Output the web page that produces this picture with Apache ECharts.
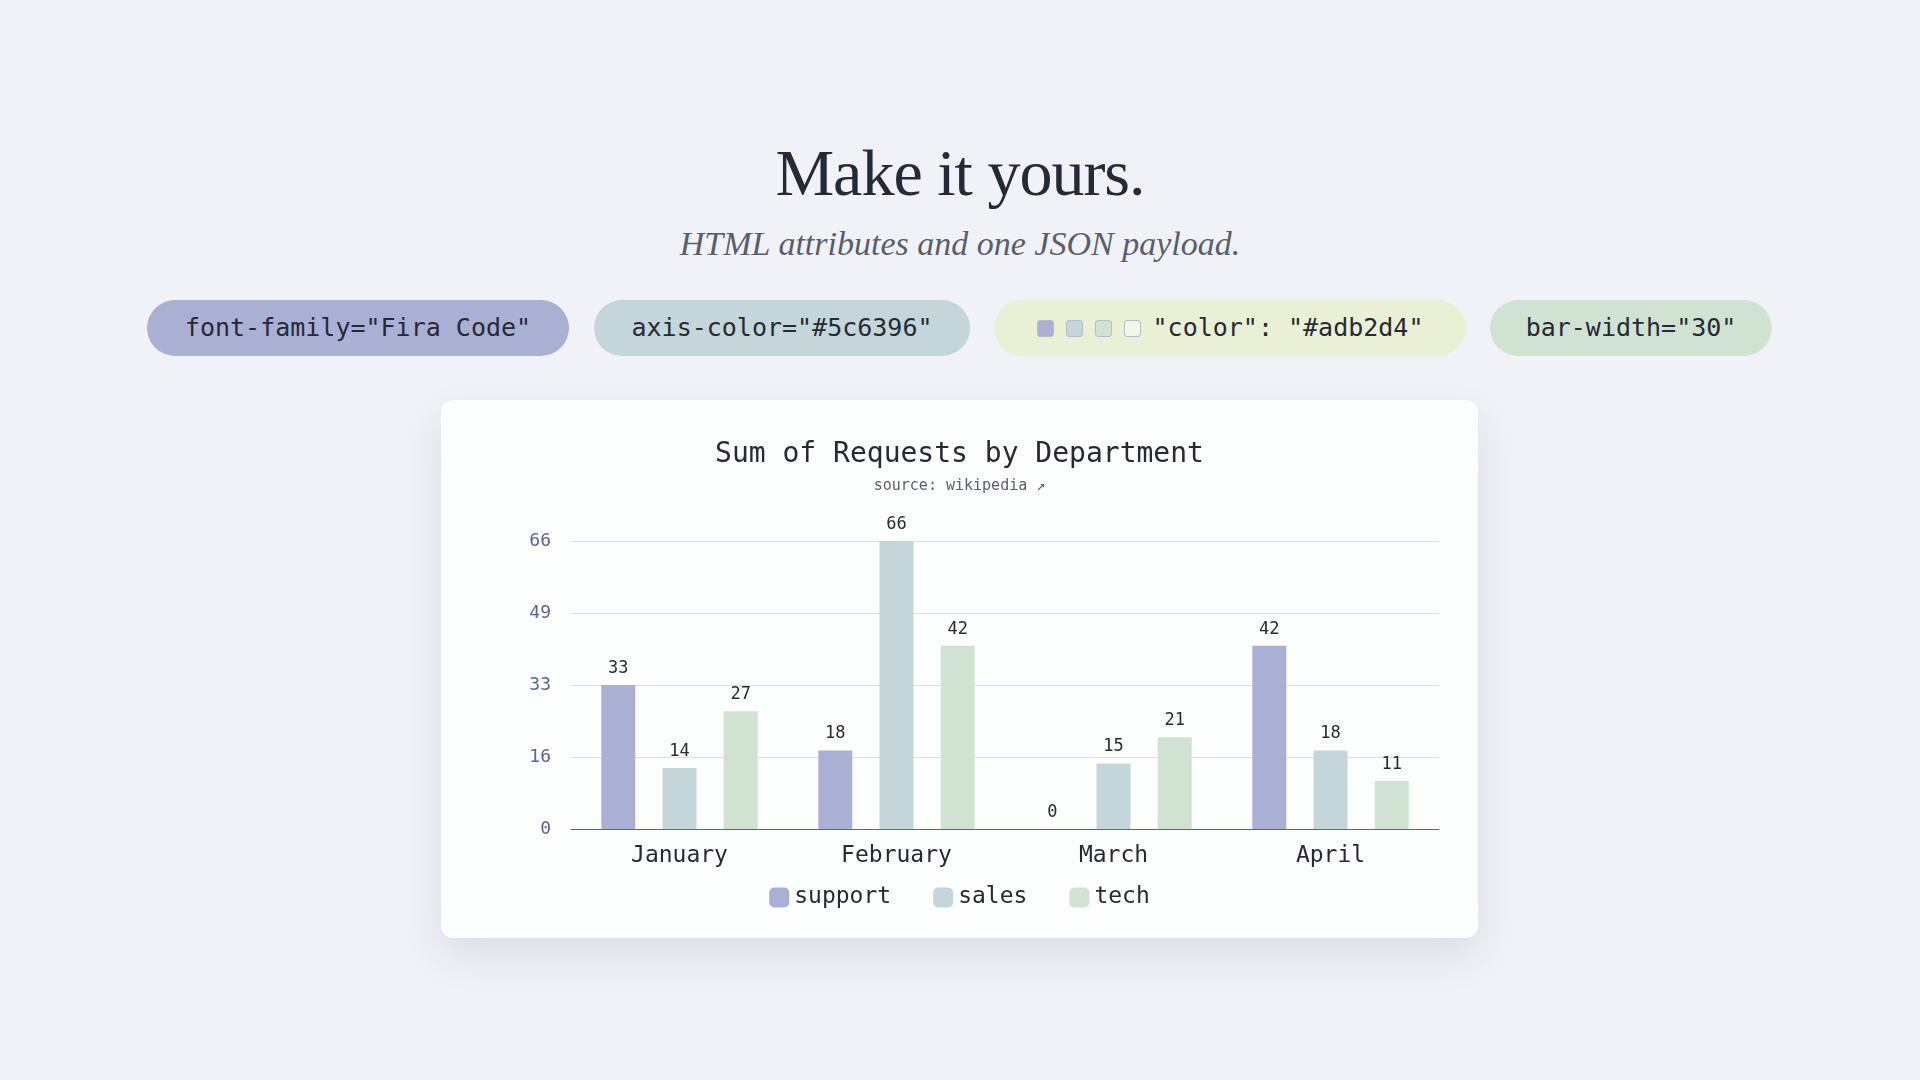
<!DOCTYPE html>
<html>
<head>
<meta charset="utf-8">
<script src="https://cdn.jsdelivr.net/npm/echarts@6/dist/echarts.min.js"></script>
<style>
  body { margin: 0; width: 1920px; height: 1080px; background: #f0f2f7; font-family: "DejaVu Sans Mono", monospace; position: relative; overflow: hidden; }
  h1 { position: absolute; top: 135px; width: 100%; text-align: center; margin: 0; font: 400 66px "Liberation Serif", serif; color: #262a36; letter-spacing: -1px; }
  .sub { position: absolute; top: 225px; width: 100%; text-align: center; font: italic 34px "Liberation Serif", serif; color: #5a5e6c; }
  .pill { position: absolute; top: 300px; height: 56px; line-height: 56px; border-radius: 28px; font-size: 25px; color: #262a36; text-align: center; }
  .sq { display: inline-block; width: 15px; height: 15px; border-radius: 3px; margin-right: 12px; vertical-align: -1px; border: 1px solid #b8bcc8; }
  #card { position: absolute; left: 441px; top: 400px; width: 1037px; height: 538px; background: #fcfdfd; border-radius: 12px; box-shadow: 0 18px 40px rgba(40,50,80,0.10); }
  #chart { width: 100%; height: 100%; }
</style>
</head>
<body>
<h1>Make it yours.</h1>
<div class="sub">HTML attributes and one JSON payload.</div>
<div class="pill" style="left:147px;width:422px;background:#aab0d4">font-family="Fira Code"</div>
<div class="pill" style="left:594px;width:376px;background:#c4d6d9">axis-color="#5c6396"</div>
<div class="pill" style="left:994px;width:472px;background:#eaf0d6"><span class="sq" style="background:#aab0d4"></span><span class="sq" style="background:#c4d6d9"></span><span class="sq" style="background:#d0e3d2"></span><span class="sq" style="background:#f4f6ea"></span>"color": "#adb2d4"</div>
<div class="pill" style="left:1490px;width:282px;background:#d0e3d2">bar-width="30"</div>
<div id="card"><div id="chart"></div></div>
<script>
const months = ['January', 'February', 'March', 'April'];
const support = [33, 18, 0, 42];
const sales = [14, 66, 15, 18];
const tech = [27, 42, 21, 11];
const colors = ['#aab0d4', '#c4d6d9', '#d0e3d2'];

const mono = '"DejaVu Sans Mono", monospace';
const chart = echarts.init(document.getElementById('chart'));
const mk = (name, data, color) => ({
  name, type: 'bar', data, barWidth: 34, barGap: '80%',
  itemStyle: { color },
  label: { show: true, position: 'top', color: '#262a36', fontFamily: mono, fontSize: 17, distance: 8 }
});
chart.setOption({
  textStyle: { fontFamily: mono },
  title: {
    text: 'Sum of Requests by Department',
    subtext: 'source: wikipedia ↗',
    left: 'center', top: 36, itemGap: 10,
    textStyle: { fontFamily: mono, fontSize: 28, fontWeight: 'normal', color: '#262a36' },
    subtextStyle: { fontFamily: mono, fontSize: 15, color: '#5a5e6c' }
  },
  legend: {
    bottom: 24, itemWidth: 20, itemHeight: 20, itemGap: 42,
    icon: 'roundRect',
    textStyle: { fontFamily: mono, fontSize: 23, color: '#262a36' }
  },
  grid: { left: 130, right: 39, top: 141, bottom: 109 },
  xAxis: {
    type: 'category', data: months,
    axisLine: { lineStyle: { color: '#5c6396' } },
    axisTick: { show: false },
    axisLabel: { fontFamily: mono, fontSize: 23, color: '#262a36', margin: 16 }
  },
  yAxis: {
    type: 'value', min: 0, max: 66, interval: 16.5,
    axisLabel: { fontFamily: mono, fontSize: 18, color: '#5c6396', margin: 20, formatter: v => Math.floor(v) },
    splitLine: { lineStyle: { color: '#e6dcdc' } }
  },
  series: [mk('support', support, colors[0]), mk('sales', sales, colors[1]), mk('tech', tech, colors[2])]
});
</script>
</body>
</html>
